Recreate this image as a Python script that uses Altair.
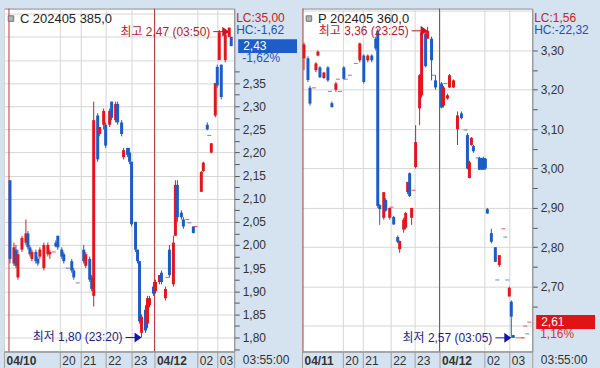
import altair as alt
import pandas as pd

FONT = "Liberation Sans, Noto Sans CJK KR, sans-serif"
RED = "#e3161c"
BLUE = "#1c5cc8"
BG = "#d5e2f0"
GRID = "#d6d6d6"
DAYRED = "#b83c3c"

# ---------------- left panel: C 202405 385.0 ----------------
c_slot = [3, 5, 6, 7, 9, 11, 12, 13, 14, 16, 17, 18, 20, 22, 23, 25, 26, 27, 29, 30,
          32, 34, 35, 37, 40, 41, 43, 44, 45, 47, 48, 50, 51, 53, 54, 56, 57, 59, 60, 62,
          63, 64, 66, 67, 68, 69, 71, 72, 73, 75, 76, 78, 79, 81, 82, 83, 85, 86, 87, 89,
          90, 92, 93, 95, 96, 99, 100, 102, 103, 104, 106, 107, 108, 109, 111, 113, 114]
c_open = [2.14, 1.96, 1.99, 1.93, 1.99, 2.005, 2.025, 1.995, 1.97, 1.985, 1.97, 1.975, 1.95, 1.98, 1.98, 1.985, 2.005, 2.02, 1.99, 1.98,
          1.95, 1.965, 1.945, 1.918, 1.99, 1.955, 1.97, 1.93, 1.89, 2.28, 2.24, 2.26, 2.26, 2.26, 2.31, 2.27, 2.305, 2.265, 2.19, 2.21,
          2.20, 2.18, 2.05, 1.99, 1.965, 1.81, 1.86, 1.83, 1.87, 1.91, 1.90, 1.92, 1.94, 1.885, 1.93, 1.99, 1.915, 2.02, 2.13, 2.07,
          2.055, 2.055, 2.048, 2.04, 2.04, 2.115, 2.16, 2.26, 2.237, 2.20, 2.28, 2.385, 2.40, 2.39, 2.40, 2.45, 2.45]
c_high = [2.14, 2.005, 2.00, 1.99, 2.02, 2.055, 2.03, 2.00, 1.99, 1.99, 1.975, 1.995, 2.005, 2.005, 1.99, 1.985, 2.01, 2.02, 1.995, 1.985,
          1.95, 1.97, 1.95, 1.918, 2.00, 1.985, 1.975, 1.935, 2.31, 2.285, 2.255, 2.295, 2.265, 2.295, 2.31, 2.31, 2.31, 2.27, 2.21, 2.21,
          2.21, 2.18, 2.05, 1.99, 1.965, 1.85, 1.87, 1.89, 1.89, 1.92, 1.925, 1.935, 1.945, 1.91, 1.93, 2.00, 2.02, 2.14, 2.14, 2.075,
          2.06, 2.055, 2.048, 2.04, 2.04, 2.16, 2.18, 2.265, 2.237, 2.22, 2.35, 2.39, 2.465, 2.39, 2.46, 2.47, 2.45]
c_low = [1.96, 1.955, 1.95, 1.925, 1.985, 2.00, 1.99, 1.975, 1.965, 1.96, 1.955, 1.97, 1.945, 1.975, 1.97, 1.985, 1.995, 1.99, 1.97, 1.96,
         1.95, 1.94, 1.925, 1.918, 1.96, 1.95, 1.92, 1.90, 1.867, 2.18, 2.235, 2.25, 2.21, 2.255, 2.27, 2.265, 2.26, 2.235, 2.185, 2.19,
         2.175, 2.04, 1.985, 1.96, 1.83, 1.80, 1.81, 1.82, 1.865, 1.89, 1.895, 1.915, 1.915, 1.88, 1.93, 1.93, 1.91, 2.02, 2.05, 2.055,
         2.035, 2.055, 2.048, 2.025, 2.04, 2.115, 2.158, 2.248, 2.237, 2.198, 2.276, 2.34, 2.40, 2.315, 2.395, 2.45, 2.43]
c_close = [1.97, 1.995, 1.955, 1.98, 2.015, 2.025, 1.995, 1.98, 1.985, 1.965, 1.96, 1.99, 2.00, 2.00, 1.985, 1.985, 1.997, 1.995, 1.975, 1.965,
           1.95, 1.945, 1.93, 1.918, 1.965, 1.98, 1.925, 1.905, 2.27, 2.185, 2.255, 2.29, 2.215, 2.29, 2.275, 2.305, 2.265, 2.24, 2.205, 2.195,
           2.18, 2.045, 1.99, 1.965, 1.835, 1.845, 1.815, 1.885, 1.885, 1.895, 1.92, 1.935, 1.92, 1.905, 1.93, 1.935, 2.005, 2.13, 2.06, 2.06,
           2.04, 2.055, 2.048, 2.026, 2.04, 2.158, 2.178, 2.25, 2.237, 2.22, 2.35, 2.345, 2.46, 2.32, 2.455, 2.47, 2.43]

# ---------------- right panel: P 202405 360.0 ----------------
p_slot = [1, 3, 4, 6, 7, 8, 9, 11, 13, 14, 15, 17, 18, 19, 21, 22, 24, 27, 29, 31,
          33, 35, 37, 38, 39, 41, 42, 44, 45, 46, 48, 49, 51, 52, 53, 54, 55, 56, 57, 59,
          60, 62, 63, 65, 66, 67, 70, 71, 72, 73, 74, 76, 78, 80, 82, 83, 84, 85, 86, 88,
          89, 90, 91, 92, 93, 95, 97, 98, 99, 101, 102, 103, 104, 105, 106, 108, 110, 111, 112, 113,
          114]
p_open = [3.28, 3.28, 3.205, 3.205, 3.25, 3.287, 3.257, 3.23, 3.257, 3.196, 3.166, 3.20, 3.227, 3.196, 3.257, 3.227, 3.237, 3.267, 3.275, 3.287,
          3.275, 3.287, 3.33, 3.35, 2.907, 2.875, 2.92, 2.875, 2.902, 2.877, 2.826, 2.795, 2.845, 2.85, 2.94, 2.988, 2.875, 2.945, 3.004, 3.153,
          3.186, 3.343, 3.33, 3.33, 3.237, 3.224, 3.216, 3.16, 3.216, 3.178, 3.206, 3.206, 3.10, 3.14, 3.098, 3.085, 2.976, 3.06, 3.057, 3.027,
          3.027, 3.027, 3.027, 3.025, 2.897, 2.836, 2.80, 2.717, 2.755, 2.847, 2.826, 2.717, 2.675, 2.662, 2.577, 2.57, 2.57, 2.57, 2.60, 2.58,
          2.61]
p_high = [3.32, 3.285, 3.21, 3.205, 3.27, 3.30, 3.26, 3.245, 3.26, 3.196, 3.17, 3.22, 3.227, 3.196, 3.26, 3.227, 3.237, 3.267, 3.32, 3.29,
          3.29, 3.29, 3.335, 3.355, 2.91, 2.94, 2.925, 2.90, 2.902, 2.88, 2.83, 2.817, 2.875, 2.89, 2.966, 2.99, 2.90, 2.945, 3.11, 3.24,
          3.35, 3.35, 3.36, 3.335, 3.237, 3.237, 3.22, 3.21, 3.216, 3.19, 3.24, 3.226, 3.145, 3.145, 3.098, 3.09, 3.02, 3.08, 3.06, 3.027,
          3.03, 3.027, 3.03, 3.027, 2.90, 2.847, 2.80, 2.717, 2.78, 2.847, 2.826, 2.717, 2.70, 2.665, 2.577, 2.57, 2.57, 2.57, 2.60, 2.58,
          2.61]
p_low = [3.25, 3.22, 3.16, 3.205, 3.245, 3.285, 3.23, 3.228, 3.22, 3.196, 3.155, 3.195, 3.227, 3.196, 3.226, 3.227, 3.237, 3.267, 3.27, 3.216,
         3.27, 3.27, 3.30, 2.90, 2.857, 2.87, 2.89, 2.87, 2.902, 2.857, 2.81, 2.786, 2.837, 2.845, 2.935, 2.928, 2.857, 2.945, 3.00, 3.11,
         3.18, 3.257, 3.33, 3.224, 3.237, 3.20, 3.153, 3.155, 3.216, 3.175, 3.205, 3.205, 3.06, 3.125, 3.098, 2.998, 2.975, 3.058, 3.04, 3.027,
         2.996, 2.996, 2.997, 2.997, 2.885, 2.81, 2.763, 2.717, 2.75, 2.847, 2.826, 2.717, 2.675, 2.57, 2.57, 2.57, 2.57, 2.57, 2.60, 2.58,
         2.61]
p_close = [3.315, 3.225, 3.165, 3.205, 3.267, 3.297, 3.232, 3.244, 3.224, 3.196, 3.156, 3.216, 3.227, 3.196, 3.228, 3.227, 3.237, 3.267, 3.318, 3.22,
           3.287, 3.275, 3.305, 2.905, 2.897, 2.94, 2.893, 2.90, 2.902, 2.858, 2.814, 2.816, 2.87, 2.887, 2.966, 2.93, 2.90, 2.945, 3.067, 3.237,
           3.346, 3.26, 3.35, 3.275, 3.237, 3.206, 3.155, 3.206, 3.216, 3.186, 3.237, 3.224, 3.135, 3.128, 3.098, 3.00, 3.016, 3.078, 3.044, 3.027,
           2.997, 2.998, 2.997, 3.00, 2.886, 2.814, 2.763, 2.717, 2.78, 2.847, 2.826, 2.717, 2.697, 2.624, 2.57, 2.57, 2.57, 2.57, 2.60, 2.58,
           2.61]

# axis ticks / labels
c_xticks = [0, 28, 38.5, 51, 64, 75.5, 97, 107, 115.5]
c_xlabels = ["04/10", "20", "21", "22", "23", "04/12", "02", "03", ""]
c_daylines = [2.5, 75.5]
p_xticks = [0, 20.5, 30.5, 44.5, 56.5, 69, 91.5, 104, 115.5]
p_xlabels = ["04/11", "20", "21", "22", "23", "04/12", "02", "03", ""]
p_daylines = [0.5, 69]
c_yticks = [round(1.775 + 0.025 * i, 3) for i in range(30)]
p_yticks = [round(2.55 + 0.05 * i, 3) for i in range(18)]

W, H = 231, 344


def fmt(v):
    return f"{v:.2f}".replace(".", ",")


def panel(title, slots, o, h, l, c, ydom, yticks, ystep, ylab_lo, ylab_hi, tick_lo, tick_hi,
          xticks, xlabels, daylines, lc, hc, pct, box_color, pct_color, max_time, min_time, last_time):
    df = pd.DataFrame({"s": slots, "o": o, "h": h, "l": l, "c": c})
    prev = df["c"].shift(1).fillna(df["c"])
    df["dir"] = ["up" if (cc > oo) or (cc == oo and cc >= pp) else "down"
                 for oo, cc, pp in zip(df["o"], df["c"], prev)]

    k = round(1 / ystep)
    major = f"abs(datum.value*{k} - round(datum.value*{k})) < 0.001"
    yaxis = alt.Axis(
        orient="right", values=yticks, title=None,
        labelExpr=f"({major} && datum.value > {ylab_lo} && datum.value < {ylab_hi}) ? "
                  f"replace(format(datum.value, '.2f'), '.', ',') : ''",
        tickSize=5, tickColor="#555555", domainColor="#909090", labelColor="#333333",
        tickOpacity={"condition": {"test": f"datum.value > {tick_hi} || datum.value < {tick_lo}", "value": 0},
                     "value": 1},
        labelFont=FONT, labelFontSize=12, labelPadding=3, labelOverlap=False,
        labelFlush=False, labelBound=False, grid=True, gridColor=GRID,
        gridOpacity={"condition": {"test": major, "value": 1}, "value": 0},
    )
    label_arr = "[" + ",".join(f"'{t}'" for t in xlabels) + "]"
    tick_arr = "[" + ",".join(str(t) for t in xticks) + "]"
    bold_test = " || ".join(f"datum.value == {t}" for t, lab in zip(xticks, xlabels) if "/" in lab)
    xaxis = alt.Axis(
        values=xticks, title=None, labelExpr=f"{label_arr}[indexof({tick_arr}, datum.value)]",
        tickSize=19, tickColor="#a0a0a0", domainColor="#909090", labelAlign="left",
        labelBaseline="middle", labelPadding=-10, labelOffset=2, labelFont=FONT,
        labelFontSize=12, labelColor="#333333", labelOverlap=False, labelFlush=False,
        labelBound=False,
        labelFontWeight={"condition": {"test": bold_test, "value": "bold"}, "value": "normal"},
        grid=True, gridColor=GRID,
    )
    xs = alt.Scale(domain=[0, 115.5], nice=False, zero=False, padding=0)
    ys = alt.Scale(domain=ydom, nice=False, zero=False, padding=0)

    def X(f):
        return alt.X(f, type="quantitative", scale=xs, axis=xaxis)

    def Y(f):
        return alt.Y(f, type="quantitative", scale=ys, axis=yaxis)

    color = alt.Color("dir:N", scale=alt.Scale(domain=["up", "down"], range=[RED, BLUE]), legend=None)

    base = alt.Chart(df)
    wicks = base.mark_rule(strokeWidth=1).encode(x=X("s"), y=Y("l"), y2="h", color=color)
    bodies = base.mark_bar(size=3).encode(x=X("s"), y=Y("o"), y2="c", color=color)
    dojis = base.transform_filter("datum.o == datum.c").mark_tick(
        orient="horizontal", size=4, thickness=1).encode(x=X("s"), y=Y("c"), color=color)

    days = alt.Chart(pd.DataFrame({"s": daylines})).mark_rule(color=DAYRED, strokeWidth=1).encode(x=X("s"))

    imax = df["h"].idxmax()
    imin = df["l"].idxmin()
    ann = pd.DataFrame({
        "s": [df.loc[imax, "s"], df.loc[imin, "s"]],
        "p": [df.loc[imax, "h"], df.loc[imin, "l"]],
        "kind": ["max", "min"],
    })
    ann["x1"] = ann["s"] - 8
    ann["x2"] = ann["s"] - 2
    ann["xh"] = ann["s"] - 1.75
    ann["label"] = [f"최고 {fmt(ann.loc[0, 'p'])} ({max_time})", f"최저 {fmt(ann.loc[1, 'p'])} ({min_time})"]

    layers = [days, wicks, bodies, dojis]
    for kind, tcol, acol, off in [("max", "#c01828", "#d01020", 4), ("min", "#1c1c86", "#1414b0", 0)]:
        a = alt.Chart(ann).transform_filter(f"datum.kind == '{kind}'")
        layers.append(a.mark_rule(color=acol, strokeWidth=1, yOffset=off, y2Offset=off).encode(
            x=X("x1"), x2="x2", y=Y("p")))
        layers.append(a.mark_point(shape="M-0.7,-1L0.7,0L-0.7,1Z", filled=True, size=100, opacity=1,
                                   color=acol, yOffset=off).encode(x=X("xh"), y=Y("p")))
        layers.append(a.mark_text(align="right", baseline="middle", dx=-3, dy=off, font=FONT,
                                  fontSize=12, color=tcol).encode(x=X("x1"), y=Y("p"), text="label:N"))

    last = pd.DataFrame({"p": [df["c"].iloc[-1]], "t": [fmt(df["c"].iloc[-1])], "pct": [pct]})
    lb = alt.Chart(last)
    layers.append(lb.mark_bar(orient="horizontal", size=14, color=box_color).encode(
        x=alt.value(235), x2=alt.value(294), y=Y("p")))
    layers.append(lb.mark_text(align="left", baseline="middle", font=FONT, fontSize=12, color="white").encode(
        x=alt.value(240), y=Y("p"), text="t:N"))
    layers.append(lb.mark_text(align="left", baseline="middle", dy=12, font=FONT, fontSize=12,
                               color=pct_color).encode(x=alt.value(239), y=Y("p"), text="pct:N"))

    info = pd.DataFrame({"title": [title], "lc": [lc], "hc": [hc], "tm": [last_time]})
    ib = alt.Chart(info)
    layers.append(ib.mark_square(size=30, fill="#b4b4b4", stroke="#707070", strokeWidth=1, opacity=1).encode(
        x=alt.value(7), y=alt.value(10)))
    layers.append(ib.mark_text(align="left", baseline="middle", font=FONT, fontSize=13, color="#222222").encode(
        x=alt.value(16), y=alt.value(10), text="title:N"))
    layers.append(ib.mark_text(align="left", baseline="middle", font=FONT, fontSize=12, color="#cc2020").encode(
        x=alt.value(233), y=alt.value(9), text="lc:N"))
    layers.append(ib.mark_text(align="left", baseline="middle", font=FONT, fontSize=12, color="#2050c0").encode(
        x=alt.value(233), y=alt.value(21), text="hc:N"))
    layers.append(ib.mark_text(align="center", baseline="middle", font=FONT, fontSize=12, color="#333333").encode(
        x=alt.value(263), y=alt.value(353), text="tm:N"))

    return alt.layer(*layers).properties(width=W, height=H)


left = panel("C 202405 385,0", c_slot, c_open, c_high, c_low, c_close,
             [1.7698, 2.5112], c_yticks, 0.05, 1.79, 2.39, 1.7, 2.39, c_xticks, c_xlabels, c_daylines,
             "LC:35,00", "HC:-1,62", "-1,62%", "#1e5cc8", "#2050c0", "03:50", "23:20", "03:55:00")
right = panel("P 202405 360,0", p_slot, p_open, p_high, p_low, p_close,
              [2.5354, 3.4063], p_yticks, 0.1, 2.65, 3.35, 2.65, 3.32, p_xticks, p_xlabels, p_daylines,
              "LC:1,56", "HC:-22,32", "1,16%", "#e01414", "#e03030", "23:25", "03:05", "03:55:00")

chart = alt.hconcat(left, right, spacing=68, bounds="flush").properties(
    background=BG, padding={"left": 3, "top": 3, "right": 4, "bottom": 2}
).configure_view(fill="white", stroke="#8c8c8c", strokeWidth=1)

chart.save("out.html", embed_options={"renderer": "svg", "actions": False})
